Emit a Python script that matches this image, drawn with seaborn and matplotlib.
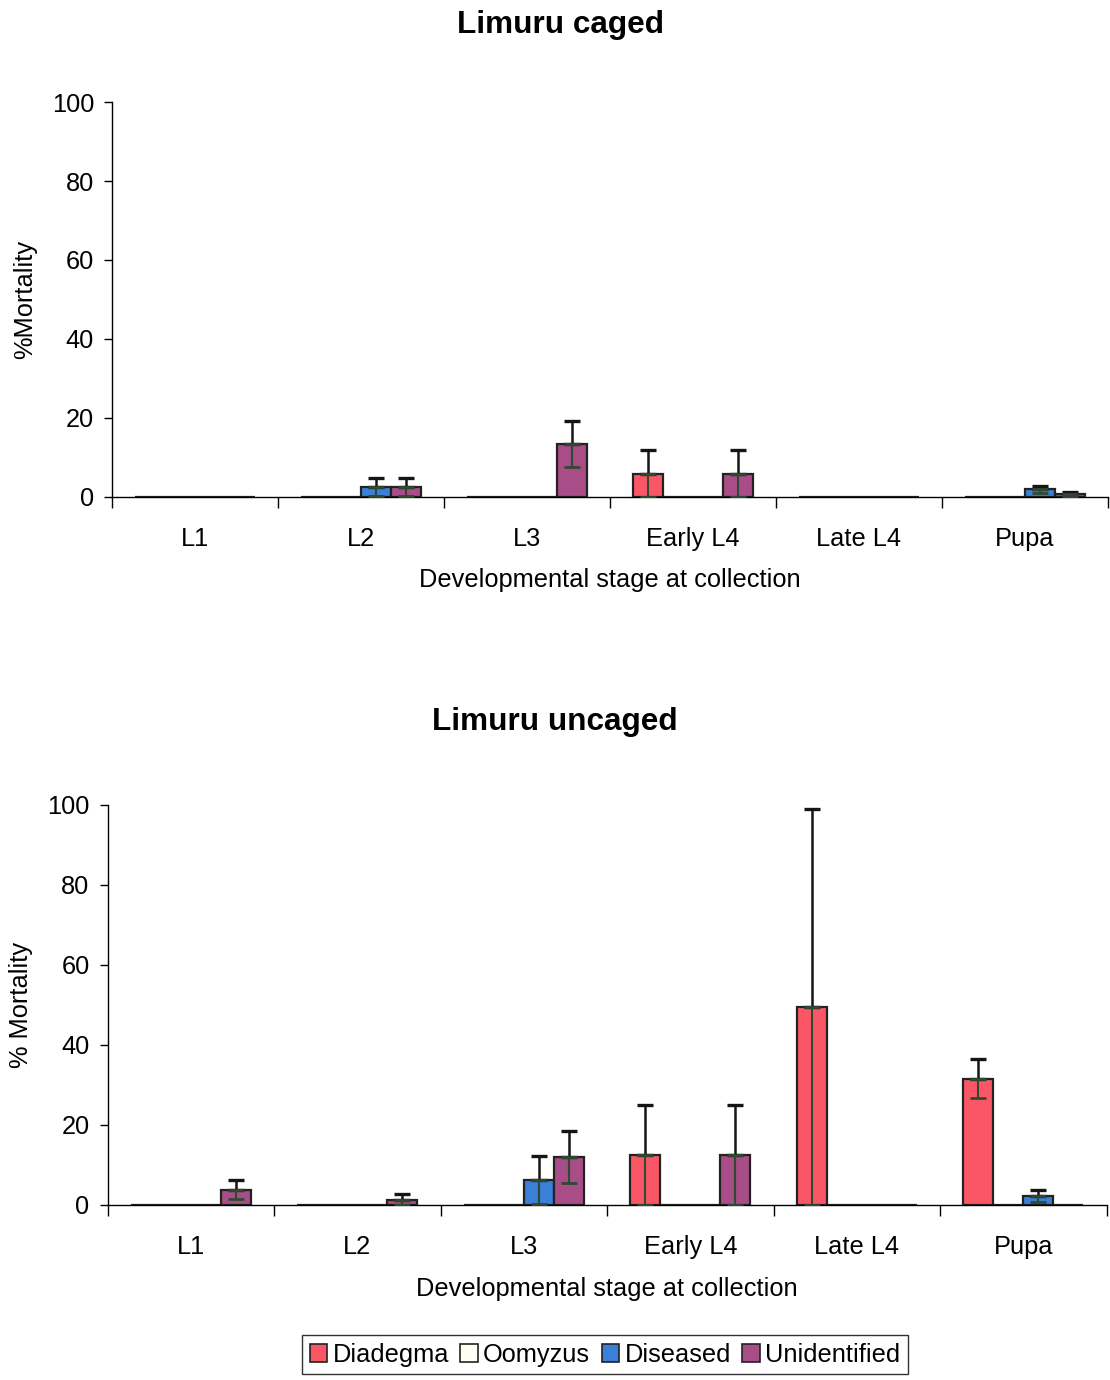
import matplotlib
matplotlib.use("Agg")
import matplotlib.pyplot as plt
from matplotlib.patches import Patch
import seaborn as sns
import pandas as pd

# Developmental stages and mortality agents
stages = ["L1", "L2", "L3", "Early L4", "Late L4", "Pupa"]
agents = ["Diadegma", "Oomyzus", "Diseased", "Unidentified"]

# Limuru caged: mean % mortality and standard error per stage
caged_diadegma = [0, 0, 0, 5.9, 0, 0]
caged_oomyzus = [0, 0, 0, 0, 0, 0]
caged_diseased = [0, 2.5, 0, 0, 0, 1.9]
caged_unidentified = [0, 2.5, 13.4, 5.9, 0, 0.6]
caged_diadegma_se = [0, 0, 0, 5.9, 0, 0]
caged_oomyzus_se = [0, 0, 0, 0, 0, 0]
caged_diseased_se = [0, 2.3, 0, 0, 0, 0.9]
caged_unidentified_se = [0, 2.3, 5.9, 5.9, 0, 0.7]

# Limuru uncaged: mean % mortality and standard error per stage
uncaged_diadegma = [0, 0, 0, 12.5, 49.5, 31.5]
uncaged_oomyzus = [0, 0, 0, 0, 0, 0]
uncaged_diseased = [0, 0, 6.2, 0, 0, 2.3]
uncaged_unidentified = [3.8, 1.3, 11.9, 12.5, 0, 0]
uncaged_diadegma_se = [0, 0, 0, 12.5, 49.5, 4.8]
uncaged_oomyzus_se = [0, 0, 0, 0, 0, 0]
uncaged_diseased_se = [0, 0, 6.1, 0, 0, 1.5]
uncaged_unidentified_se = [2.4, 1.4, 6.5, 12.5, 0, 0]

colors = {"Diadegma": "#fb5666", "Oomyzus": "#fffff2",
          "Diseased": "#3a7fd8", "Unidentified": "#a84d88"}


def long_table(vals, errs):
    rows = []
    for agent, v, e in zip(agents, vals, errs):
        for s, y, se in zip(stages, v, e):
            rows.append({"stage": s, "agent": agent, "value": y, "se": se})
    return pd.DataFrame(rows)


caged = long_table(
    [caged_diadegma, caged_oomyzus, caged_diseased, caged_unidentified],
    [caged_diadegma_se, caged_oomyzus_se, caged_diseased_se, caged_unidentified_se])
uncaged = long_table(
    [uncaged_diadegma, uncaged_oomyzus, uncaged_diseased, uncaged_unidentified],
    [uncaged_diadegma_se, uncaged_oomyzus_se, uncaged_diseased_se, uncaged_unidentified_se])

sns.set_theme(style="white")
plt.rcParams["font.family"] = ["Liberation Sans", "DejaVu Sans"]
plt.rcParams["text.color"] = "black"
plt.rcParams["axes.labelcolor"] = "black"
plt.rcParams["xtick.color"] = "black"
plt.rcParams["ytick.color"] = "black"

FS = 18.3

fig = plt.figure(figsize=(11.1, 13.8), dpi=100)
ax1 = fig.add_axes([0.101, 0.640, 0.897, 0.286])
ax2 = fig.add_axes([0.097, 0.127, 0.900, 0.290])


def draw(ax, df, ylabel):
    sns.barplot(data=df, x="stage", y="value", hue="agent", order=stages,
                hue_order=agents, palette=colors, saturation=1, errorbar=None,
                width=0.72, edgecolor="#222222", linewidth=1.6, legend=False, ax=ax)
    # standard error whiskers: upper part black, lower part dark green
    for agent, cont in zip(agents, ax.containers):
        sub = df[df["agent"] == agent].set_index("stage").loc[stages]
        for p, se in zip(cont.patches, sub["se"]):
            if se <= 0:
                continue
            x = p.get_x() + p.get_width() / 2
            h = p.get_height()
            ax.errorbar([x], [h], yerr=[[0], [se]], fmt="none", ecolor="#151515",
                        elinewidth=1.8, capsize=5.5, capthick=2.4, zorder=5)
            ax.errorbar([x], [h], yerr=[[se], [0]], fmt="none", ecolor="#2f4a30",
                        elinewidth=1.5, capsize=5.5, capthick=2.0, zorder=5)
    ax.set_ylim(0, 100)
    ax.set_xlim(-0.5, 5.5)
    ax.set_yticks([0, 20, 40, 60, 80, 100])
    ax.tick_params(axis="y", labelsize=FS, length=6, width=1, color="black",
                   direction="out", pad=7, left=True)
    ax.set_xticks([i - 0.5 for i in range(7)])
    ax.set_xticklabels([])
    ax.set_xticks(range(6), minor=True)
    ax.set_xticklabels(stages, minor=True)
    ax.tick_params(axis="x", which="major", length=8, width=1, color="black",
                   direction="out", bottom=True)
    ax.tick_params(axis="x", which="minor", length=0, labelsize=FS, pad=22)
    for side in ("top", "right"):
        ax.spines[side].set_visible(False)
    for side in ("left", "bottom"):
        ax.spines[side].set_color("black")
        ax.spines[side].set_linewidth(1.0)
    ax.set_xlabel("Developmental stage at collection", fontsize=FS)
    ax.xaxis.set_label_coords(0.5, -0.21)
    ax.xaxis.label.set_va("center")
    ax.set_ylabel(ylabel, fontsize=FS)
    ax.yaxis.set_label_coords(-0.087, 0.5)
    ax.yaxis.label.set_va("center")
    ax.set_facecolor("white")


draw(ax1, caged, "%Mortality")
draw(ax2, uncaged, "% Mortality")

fig.text(0.505, 1 - 25 / 1380, "Limuru caged", ha="center", va="center",
         fontsize=22.7, fontweight="bold")
fig.text(0.500, 1 - 722 / 1380, "Limuru uncaged", ha="center", va="center",
         fontsize=22.7, fontweight="bold")

handles = [Patch(facecolor=colors[a], edgecolor="#222222", linewidth=1.2) for a in agents]
leg = fig.legend(handles, agents, loc="upper center", ncol=4,
                 bbox_to_anchor=(0.545, 1 - 1335 / 1380), fontsize=FS,
                 frameon=True, fancybox=False, edgecolor="black",
                 handlelength=0.7, handleheight=0.7, handletextpad=0.2,
                 columnspacing=0.45, borderpad=0.3, borderaxespad=0)
leg.get_frame().set_linewidth(1.0)

fig.savefig("out.png", dpi=100, facecolor="white")
